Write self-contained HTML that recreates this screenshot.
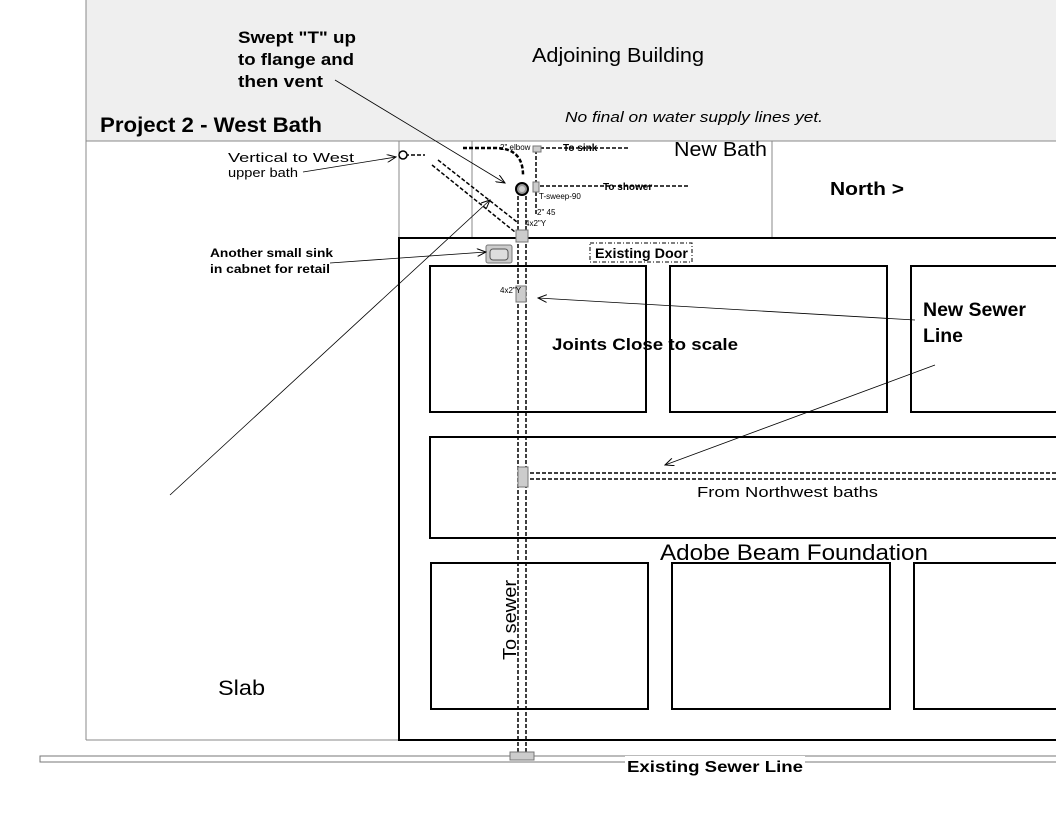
<!DOCTYPE html>
<html><head><meta charset="utf-8"><style>
html,body{margin:0;padding:0;background:#fff}
svg{display:block}
text{font-family:"Liberation Sans",Arial,sans-serif}
</style></head><body>
<svg width="1056" height="816" viewBox="0 0 1056 816" xmlns="http://www.w3.org/2000/svg">
<defs>
<marker id="a" markerWidth="10" markerHeight="8" refX="9" refY="4" orient="auto" markerUnits="userSpaceOnUse">
<path d="M0,0 L9,4 L0,8" fill="none" stroke="#000" stroke-width="1"/>
</marker>
</defs>
<rect x="86" y="0" width="970" height="141" fill="#efefef"/>
<line x1="86" y1="0" x2="86" y2="740" stroke="#888" stroke-width="1"/>
<line x1="86" y1="141" x2="1056" y2="141" stroke="#888"/>
<line x1="86" y1="740" x2="399" y2="740" stroke="#888"/>
<rect x="399" y="141" width="373" height="97" fill="#fff" stroke="#888"/>
<line x1="472" y1="141" x2="472" y2="238" stroke="#888"/>
<rect x="399" y="238" width="700" height="502" fill="#fff" stroke="#000" stroke-width="2"/>
<g fill="none" stroke="#000" stroke-width="2">
<rect x="430" y="266" width="216" height="146"/>
<rect x="670" y="266" width="217" height="146"/>
<rect x="911" y="266" width="200" height="146"/>
<rect x="430" y="437" width="700" height="101"/>
<rect x="431" y="563" width="217" height="146"/>
<rect x="672" y="563" width="218" height="146"/>
<rect x="914" y="563" width="200" height="146"/>
</g>
<rect x="40" y="756" width="1020" height="6" fill="#fff" stroke="#777"/>
<g fill="none" stroke="#000" stroke-width="1.5" stroke-dasharray="4,2">
<line x1="518" y1="190" x2="518" y2="757"/>
<line x1="526" y1="190" x2="526" y2="757"/>
<line x1="530" y1="473" x2="1056" y2="473"/>
<line x1="530" y1="479" x2="1056" y2="479"/>
<path d="M405 155 H425 M438 160 L517 222 M432 165 L515 232"/>
<path d="M463 148 H495 Q523 148 523 175" stroke-width="2.5"/>
<path d="M536 150 V215 M540 148 H630"/>
<path d="M540 186 H690"/>
</g>
<circle cx="403" cy="155" r="4" fill="#fff" stroke="#000" stroke-width="1.5"/>
<circle cx="522" cy="189" r="6" fill="#999" stroke="#000" stroke-width="2"/>
<circle cx="522" cy="189" r="3" fill="#ccc"/>
<g fill="#ccc" stroke="#777">
<rect x="516" y="230" width="12" height="12"/>
<rect x="516" y="286" width="10" height="16"/>
<rect x="518" y="467" width="10" height="20"/>
<rect x="510" y="752" width="24" height="8"/>
<rect x="533" y="182" width="6" height="10"/>
<rect x="533" y="146" width="8" height="6"/>
<rect x="486" y="245" width="26" height="18" rx="2"/>
</g>
<rect x="490" y="249" width="18" height="11" rx="3" fill="#ddd" stroke="#555"/>
<rect x="590" y="243" width="102" height="19" fill="none" stroke="#000" stroke-dasharray="4,2,1,2"/>
<g stroke="#000" stroke-width="0.8" fill="none" marker-end="url(#a)">
<line x1="335" y1="80" x2="505" y2="183"/>
<line x1="170" y1="495" x2="490" y2="200"/>
<line x1="303" y1="172" x2="396" y2="157"/>
<line x1="330" y1="263" x2="486" y2="252"/>
<line x1="915" y1="320" x2="538" y2="298"/>
<line x1="935" y1="365" x2="665" y2="465"/>
</g>
<text x="532" y="62" font-size="20" textLength="172" lengthAdjust="spacingAndGlyphs">Adjoining Building</text>
<text x="238" y="43" font-size="17" font-weight="bold" textLength="118" lengthAdjust="spacingAndGlyphs">Swept "T" up</text>
<text x="238" y="65" font-size="17" font-weight="bold" textLength="116" lengthAdjust="spacingAndGlyphs">to flange and</text>
<text x="238" y="87" font-size="17" font-weight="bold" textLength="85" lengthAdjust="spacingAndGlyphs">then vent</text>
<text x="100" y="132" font-size="21" font-weight="bold" textLength="222" lengthAdjust="spacingAndGlyphs">Project 2 - West Bath</text>
<text x="565" y="122" font-size="15" font-style="italic" textLength="258" lengthAdjust="spacingAndGlyphs">No final on water supply lines yet.</text>
<text x="674" y="156" font-size="20" textLength="93" lengthAdjust="spacingAndGlyphs">New Bath</text>
<text x="228" y="162" font-size="13" textLength="126" lengthAdjust="spacingAndGlyphs">Vertical to West</text>
<text x="228" y="177" font-size="13" textLength="70" lengthAdjust="spacingAndGlyphs">upper bath</text>
<text x="830" y="195" font-size="18" font-weight="bold" textLength="74" lengthAdjust="spacingAndGlyphs">North &gt;</text>
<text x="500" y="150" font-size="8">2" elbow</text>
<text x="563" y="151" font-size="10" font-weight="bold">To sink</text>
<text x="603" y="190" font-size="10" font-weight="bold">To shower</text>
<text x="539" y="199" font-size="8">T-sweep-90</text>
<text x="537" y="215" font-size="8">2" 45</text>
<text x="525" y="226" font-size="8">4x2"Y</text>
<text x="500" y="293" font-size="8">4x2"Y</text>
<text x="595" y="258" font-size="14" font-weight="bold" textLength="93" lengthAdjust="spacingAndGlyphs">Existing Door</text>
<text x="210" y="257" font-size="12" font-weight="bold" textLength="123" lengthAdjust="spacingAndGlyphs">Another small sink</text>
<text x="210" y="273" font-size="12" font-weight="bold" textLength="120" lengthAdjust="spacingAndGlyphs">in cabnet for retail</text>
<text x="923" y="316" font-size="19" font-weight="bold" textLength="103" lengthAdjust="spacingAndGlyphs">New Sewer</text>
<text x="923" y="342" font-size="19" font-weight="bold" textLength="40" lengthAdjust="spacingAndGlyphs">Line</text>
<text x="552" y="350" font-size="17" font-weight="bold" textLength="186" lengthAdjust="spacingAndGlyphs">Joints Close to scale</text>
<text x="697" y="497" font-size="15" textLength="181" lengthAdjust="spacingAndGlyphs">From Northwest baths</text>
<text x="660" y="560" font-size="22" textLength="268" lengthAdjust="spacingAndGlyphs">Adobe Beam Foundation</text>
<text x="218" y="695" font-size="21" textLength="47" lengthAdjust="spacingAndGlyphs">Slab</text>
<text x="516" y="660" font-size="18" transform="rotate(-90 516 660)" textLength="80" lengthAdjust="spacingAndGlyphs">To sewer</text>
<rect x="625" y="756" width="180" height="20" fill="#fff"/>
<text x="627" y="772" font-size="16" font-weight="bold" textLength="176" lengthAdjust="spacingAndGlyphs">Existing Sewer Line</text>
</svg>
</body></html>
